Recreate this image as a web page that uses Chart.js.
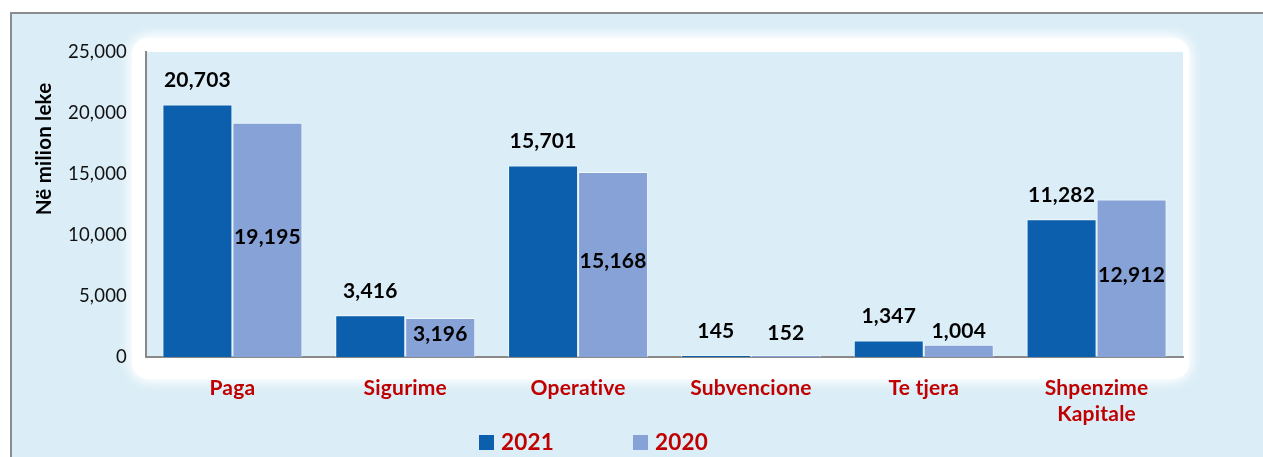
<!DOCTYPE html>
<html>
<head>
<meta charset="utf-8">
<script src="https://cdn.jsdelivr.net/npm/chart.js@4"></script>
<style>
  html, body { margin: 0; padding: 0; background: #ffffff; }
  #wrap { position: relative; width: 1263px; height: 457px; }
</style>
</head>
<body>
<div id="wrap"><canvas id="myChart" width="1263" height="457"></canvas></div>
<script>
const categories = ['Paga', 'Sigurime', 'Operative', 'Subvencione', 'Te tjera', ['Shpenzime', 'Kapitale']];
const years = ['2021', '2020'];
const values2021 = [20703, 3416, 15701, 145, 1347, 11282];
const values2020 = [19195, 3196, 15168, 152, 1004, 12912];
const yTicks = [0, 5000, 10000, 15000, 20000, 25000];

const PANEL = '#dbeef7';
const DARK = '#0c5fad';
const LIGHT = '#87a2d6';
const RED = '#c00000';
const FONT = 'Lato, "Open Sans", sans-serif';

// panel, outer frame and the soft white glow round the plot area
const panelPlugin = {
    id: 'panel',
    beforeDraw(chart) {
        const c = chart.ctx;
        const a = chart.chartArea;
        // a little spacing keeps Lato from joining "ti"
        c.letterSpacing = '0.2px';
        c.save();
        c.fillStyle = PANEL;
        c.fillRect(10, 12, chart.width - 10, chart.height - 12);
        c.strokeStyle = '#8c8c8c';
        c.lineWidth = 2;
        c.beginPath();
        c.moveTo(11, chart.height);
        c.lineTo(11, 13);
        c.lineTo(chart.width, 13);
        c.stroke();

        c.shadowColor = 'rgba(255,255,255,1)';
        c.shadowBlur = 14;
        c.fillStyle = '#ffffff';
        c.beginPath();
        c.roundRect(a.left - 14, a.top - 14, a.right - a.left + 20, a.bottom - a.top + 36, 16);
        c.fill();
        c.fill();
        c.shadowBlur = 0;
        c.fillStyle = PANEL;
        c.fillRect(a.left, a.top, a.right - a.left, a.bottom - a.top);
        c.restore();
    }
};

// value labels, axis title and legend
const labelPlugin = {
    id: 'labels',
    afterDatasetsDraw(chart) {
        const c = chart.ctx;
        const a = chart.chartArea;
        c.save();
        c.fillStyle = '#000000';
        c.textAlign = 'center';
        c.textBaseline = 'middle';
        c.font = 'bold 21px ' + FONT;
        chart.data.datasets.forEach((ds, i) => {
            chart.getDatasetMeta(i).data.forEach((bar, j) => {
                const txt = ds.data[j].toLocaleString('en-US');
                let y;
                if (i === 0) {
                    y = bar.y - 24;
                } else if (bar.base - bar.y > 35) {
                    y = (bar.y + bar.base) / 2 - 3;
                } else {
                    y = Math.min(bar.y - 14, bar.base - 24);
                }
                c.fillText(txt, bar.x, y);
            });
        });

        // y axis title
        c.save();
        c.translate(44, a.top + 97);
        c.rotate(-Math.PI / 2);
        c.font = 'bold 20.5px ' + FONT;
        c.fillText('Në milion leke', 0, 0);
        c.restore();

        // legend
        c.font = 'bold 22.5px ' + FONT;
        c.textAlign = 'left';
        let x = 479;
        chart.data.datasets.forEach((ds) => {
            c.fillStyle = ds.backgroundColor;
            c.fillRect(x, 435, 15, 15);
            c.fillStyle = RED;
            c.fillText(ds.label, x + 22, 443);
            x += 22 + c.measureText(ds.label).width + 79;
        });
        c.restore();
    }
};

const data = {
    labels: categories,
    datasets: [
        {
            label: years[0],
            data: values2021,
            backgroundColor: DARK,
            borderColor: 'rgba(255,255,255,0.6)',
            borderWidth: 1,
        },
        {
            label: years[1],
            data: values2020,
            backgroundColor: LIGHT,
            borderColor: 'rgba(255,255,255,0.6)',
            borderWidth: 1,
        },
    ],
};

const options = {
    responsive: false,
    animation: false,
    layout: { padding: { left: 0, top: 52, right: 80, bottom: 0 } },
    datasets: { bar: { categoryPercentage: 0.81, barPercentage: 1.0 } },
    plugins: { legend: { display: false }, tooltip: { enabled: false } },
    scales: {
        x: {
            grid: { display: false, drawTicks: false },
            border: { color: '#898989', width: 2 },
            ticks: { color: RED, font: { family: FONT, size: 21, weight: 'bold', lineHeight: 1.2 }, padding: 19, maxRotation: 0 },
            afterFit: (s) => { s.height = 100; },
        },
        y: {
            min: 0,
            max: 25000,
            afterBuildTicks: (s) => { s.ticks = yTicks.map(v => ({ value: v })); },
            grid: { display: false, drawTicks: false },
            border: { color: '#898989', width: 2 },
            ticks: { color: '#111111', font: { family: FONT, size: 18.5 }, padding: 19 },
            afterFit: (s) => { s.width = 146; },
        },
    },
};

const ctx = document.getElementById('myChart').getContext('2d');
const myChart = new Chart(ctx, {
    type: 'bar',
    data: data,
    options: options,
    plugins: [panelPlugin, labelPlugin],
});
</script>
</body>
</html>
